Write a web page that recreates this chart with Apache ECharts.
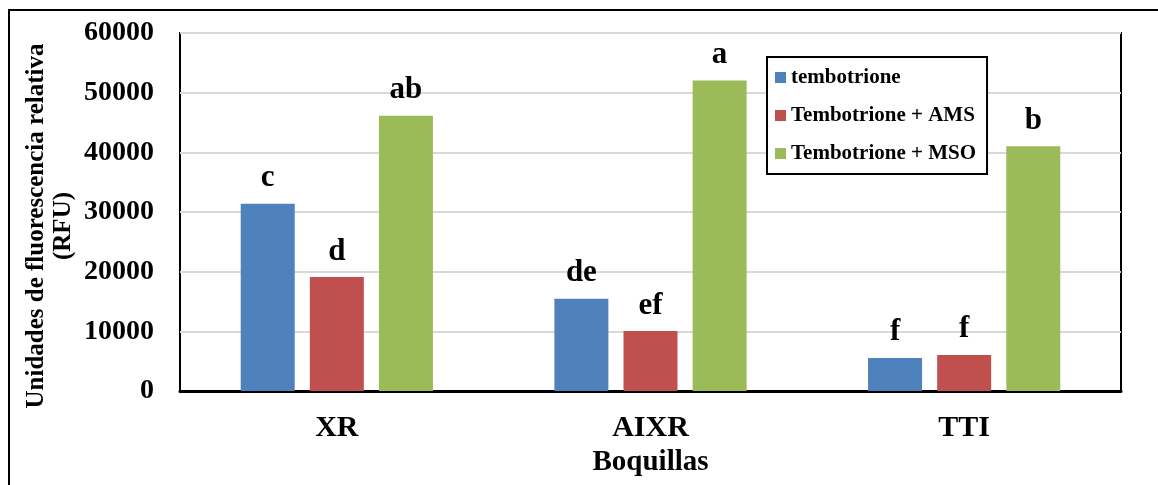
<!DOCTYPE html>
<html>
<head>
<meta charset="utf-8">
<script src="https://cdn.jsdelivr.net/npm/echarts@6/dist/echarts.min.js"></script>
<style>
  html, body { margin: 0; padding: 0; background: #fff; }
  #chart { width: 1158px; height: 485px; }
</style>
</head>
<body>
<div id="chart"></div>
<script>
// Nozzle types on the category axis
const categories = ['XR', 'AIXR', 'TTI'];

// Relative fluorescence (RFU) for each treatment
const tembotrione = [31400, 15450, 5550];
const tembotrioneAMS = [19100, 10050, 6050];
const tembotrioneMSO = [46150, 52050, 41000];

// Mean-separation letters shown above each bar
const lettersTembotrione = ['c', 'de', 'f'];
const lettersAMS = ['d', 'ef', 'f'];
const lettersMSO = ['ab', 'a', 'b'];

const seriesNames = ['tembotrione', 'Tembotrione + AMS', 'Tembotrione + MSO'];
const colors = ['#4F81BD', '#C0504D', '#9BBB59'];

const FONT = "'Liberation Serif', 'Times New Roman', serif";

function barSeries(name, values, letters, color) {
  return {
    name: name,
    type: 'bar',
    barWidth: 54,
    barGap: '28%',
    data: values,
    itemStyle: { color: color },
    label: {
      show: true,
      position: 'top',
      distance: 10,
      formatter: (p) => letters[p.dataIndex],
      fontFamily: FONT,
      fontWeight: 'bold',
      fontSize: 31,
      color: '#000'
    }
  };
}

const chart = echarts.init(document.getElementById('chart'), null, { renderer: 'canvas' });

chart.setOption({
  animation: false,
  backgroundColor: '#fff',
  textStyle: { fontFamily: FONT },
  grid: {
    left: 180, top: 33, right: 37, bottom: 94,
    show: true,
    borderColor: '#000',
    borderWidth: 2,
    backgroundColor: 'transparent'
  },
  legend: {
    orient: 'vertical',
    left: 767,
    top: 57,
    padding: [10, 11, 10, 8],
    itemGap: 17,
    itemWidth: 11,
    itemHeight: 11,
    icon: 'rect',
    backgroundColor: '#fff',
    borderColor: '#000',
    borderWidth: 2,
    borderRadius: 0,
    textStyle: {
      fontFamily: FONT,
      fontWeight: 'bold',
      fontSize: 21,
      lineHeight: 21,
      color: '#000'
    },
    data: seriesNames
  },
  xAxis: {
    type: 'category',
    data: categories,
    name: 'Boquillas',
    nameLocation: 'middle',
    nameGap: 55,
    nameTextStyle: {
      fontFamily: FONT, fontWeight: 'bold', fontSize: 29, color: '#000'
    },
    axisLine: { show: true, lineStyle: { color: '#000', width: 3 } },
    axisTick: { show: false },
    axisLabel: {
      margin: 22,
      fontFamily: FONT, fontWeight: 'bold', fontSize: 30, color: '#000'
    }
  },
  yAxis: {
    type: 'value',
    min: 0,
    max: 60000,
    interval: 10000,
    axisLine: { show: false },
    axisTick: { show: false },
    axisLabel: {
      margin: 26,
      padding: [4, 0, 0, 0],
      formatter: (v) => String(v),
      fontFamily: FONT, fontWeight: 'bold', fontSize: 28, color: '#000'
    },
    splitLine: { show: true, lineStyle: { color: '#D9D9D9', width: 2 } }
  },
  graphic: [
    {
      type: 'rect',
      silent: true,
      shape: { x: 9, y: 10, width: 1300, height: 600 },
      style: { fill: 'none', stroke: '#000', lineWidth: 2 }
    },
    {
      type: 'text',
      x: 37, y: 226,
      rotation: Math.PI / 2,
      style: {
        text: 'Unidades de fluorescencia relativa',
        font: "bold 25px " + FONT,
        fill: '#000',
        align: 'center',
        verticalAlign: 'middle'
      }
    },
    {
      type: 'text',
      x: 64, y: 226,
      rotation: Math.PI / 2,
      style: {
        text: '(RFU)',
        font: "bold 25px " + FONT,
        fill: '#000',
        align: 'center',
        verticalAlign: 'middle'
      }
    }
  ],
  series: [
    barSeries(seriesNames[0], tembotrione, lettersTembotrione, colors[0]),
    barSeries(seriesNames[1], tembotrioneAMS, lettersAMS, colors[1]),
    barSeries(seriesNames[2], tembotrioneMSO, lettersMSO, colors[2])
  ]
});
</script>
</body>
</html>
